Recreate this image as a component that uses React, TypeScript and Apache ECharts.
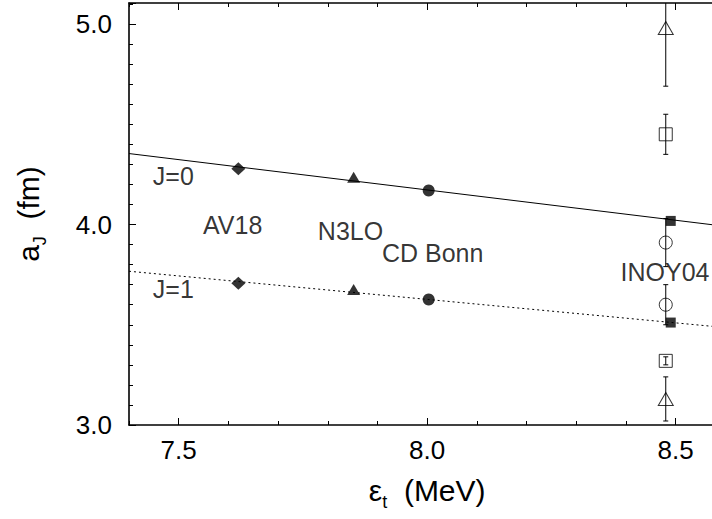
import React, { useEffect, useRef } from "react";
import * as echarts from "echarts";

// ---- data ----
const modelNames = ["AV18", "N3LO", "CD Bonn", "INOY04"];
const modelEt = [7.62, 7.852, 8.003, 8.49];
const modelA0 = [4.278, 4.236, 4.17, 4.018];
const modelA1 = [3.707, 3.676, 3.626, 3.511];

const fitEt = [7.4, 8.6];
const fitA0 = [4.354, 3.991];
const fitA1 = [3.767, 3.486];

const expEt = 8.48;
const expTriA = [4.98, 3.13];
const expTriErr = [0.29, 0.11];
const expSqA = [4.45, 3.32];
const expSqErr = [0.1, 0.02];
const expCircA = [3.91, 3.6];
const expCircErr = [0.12, 0.1];

const annTexts = ["J=0", "J=1", "AV18", "N3LO", "CD Bonn", "INOY04"];
const annX = [7.448, 7.448, 7.549, 7.78, 7.909, 8.389];
const annY = [4.242, 3.677, 4.0, 3.968, 3.86, 3.761];

const xMajorTicks = [7.5, 8.0, 8.5];
const X_MIN = 7.4;
const X_MAX = 8.6;
const Y_MIN = 3.0;
const Y_MAX = 5.105;

const FONT = "Liberation Sans";

export default function App() {
  const ref = useRef<HTMLDivElement>(null);
  useEffect(() => {
    if (!ref.current) return;
    const chart = echarts.init(ref.current, undefined, { renderer: "svg" });

    const errData: number[][] = [];
    [expTriA, expSqA, expCircA].forEach((arr, k) => {
      const errs = [expTriErr, expSqErr, expCircErr][k];
      arr.forEach((v, i) => errData.push([expEt, v - errs[i], v + errs[i]]));
    });

    const axisLine = { show: true, lineStyle: { color: "#000", width: 1.6 } };
    const minorX = (pos: string) => ({
      type: "value",
      min: X_MIN,
      max: X_MAX,
      interval: 0.1,
      position: pos,
      axisLine,
      axisTick: { show: true, inside: true, length: 4, lineStyle: { color: "#000", width: 1 } },
      axisLabel: { show: false },
      splitLine: { show: false },
    });
    const majorX = (pos: string, showLabel: boolean) => ({
      type: "value",
      min: X_MIN,
      max: X_MAX,
      position: pos,
      axisLine: { show: false },
      axisTick: {
        show: true,
        inside: true,
        length: 7,
        customValues: xMajorTicks,
        lineStyle: { color: "#000", width: 1 },
      },
      axisLabel: {
        show: showLabel,
        customValues: xMajorTicks,
        formatter: (v: number) => v.toFixed(1),
        margin: 12,
        fontSize: 26,
        fontFamily: FONT,
        color: "#000",
      },
      splitLine: { show: false },
    });

    const modelSymbols = ["diamond", "triangle", "circle", "rect"];
    const modelSizes: any[] = [[14, 13], [13, 11], 12, 10];

    const series: any[] = [
      {
        type: "line",
        data: fitEt.map((x, i) => [x, fitA0[i]]),
        showSymbol: false,
        symbol: "none",
        lineStyle: { color: "#000", width: 1, type: "solid" },
        silent: true,
      },
      {
        type: "line",
        data: fitEt.map((x, i) => [x, fitA1[i]]),
        showSymbol: false,
        symbol: "none",
        lineStyle: { color: "#000", width: 1, type: [2, 3] },
        silent: true,
      },
      {
        type: "custom",
        data: errData,
        encode: { x: 0, y: [1, 2] },
        silent: true,
        renderItem: (params: any, api: any) => {
          const x = api.value(0);
          const lo = api.value(1);
          const hi = api.value(2);
          const loC = Math.max(lo, Y_MIN);
          const hiC = Math.min(hi, Y_MAX);
          const p1 = api.coord([x, loC]);
          const p2 = api.coord([x, hiC]);
          const st = { stroke: "#000", lineWidth: 1 };
          const children: any[] = [
            { type: "line", shape: { x1: p1[0], y1: p1[1], x2: p2[0], y2: p2[1] }, style: st },
          ];
          if (hi <= Y_MAX)
            children.push({ type: "line", shape: { x1: p2[0] - 2.5, y1: p2[1], x2: p2[0] + 2.5, y2: p2[1] }, style: st });
          if (lo >= Y_MIN)
            children.push({ type: "line", shape: { x1: p1[0] - 2.5, y1: p1[1], x2: p1[0] + 2.5, y2: p1[1] }, style: st });
          return { type: "group", children };
        },
      },
    ];

    // experimental open markers
    const openDefs: [string, any, number[]][] = [
      ["triangle", [15, 13], expTriA],
      ["rect", 13, expSqA],
      ["circle", 13, expCircA],
    ];
    openDefs.forEach(([sym, size, arr]) => {
      series.push({
        type: "scatter",
        symbol: sym,
        symbolSize: size,
        data: arr.map((v) => [expEt, v]),
        itemStyle: { color: "rgba(0,0,0,0)", borderColor: "#000", borderWidth: 1 },
        silent: true,
      });
    });

    // model markers
    modelNames.forEach((name, i) => {
      series.push({
        type: "scatter",
        name,
        symbol: modelSymbols[i],
        symbolSize: modelSizes[i],
        data: [
          [modelEt[i], modelA0[i]],
          [modelEt[i], modelA1[i]],
        ],
        itemStyle: { color: "#000" },
        silent: true,
      });
    });

    // annotations
    series.push({
      type: "scatter",
      symbolSize: 0,
      silent: true,
      clip: false,
      data: annTexts.map((t, i) => ({ name: t, value: [annX[i], annY[i]] })),
      itemStyle: { color: "rgba(0,0,0,0)" },
      label: {
        show: true,
        position: [0, 0],
        align: "left",
        verticalAlign: "middle",
        formatter: (p: any) => p.name,
        fontSize: 25,
        fontFamily: FONT,
        color: "#000",
      },
    });

    chart.setOption({
      animation: false,
      backgroundColor: "#fff",
      grid: {
        left: 129,
        width: 596.4,
        top: 3,
        bottom: 94,
        containLabel: false,
        outerBoundsMode: "none",
      },
      xAxis: [
        {
          ...minorX("bottom"),
          name: "{e|ε}{s|t}{n|  (MeV)}",
          nameLocation: "middle",
          nameGap: 44,
          nameTextStyle: {
            rich: {
              e: { fontSize: 30, fontFamily: FONT, color: "#000", lineHeight: 42 },
              s: { fontSize: 18, fontFamily: FONT, color: "#000", verticalAlign: "bottom" },
              n: { fontSize: 30, fontFamily: FONT, color: "#000", lineHeight: 42 },
            },
          },
        },
        majorX("bottom", true),
        minorX("top"),
        majorX("top", false),
      ],
      yAxis: [
        {
          type: "value",
          min: Y_MIN,
          max: Y_MAX,
          interval: 1,
          position: "left",
          axisLine,
          axisTick: { show: true, inside: true, length: 7, lineStyle: { color: "#000", width: 1 } },
          minorTick: { show: true, splitNumber: 10, length: 4, lineStyle: { color: "#000", width: 1 } },
          axisLabel: {
            formatter: (v: number) => v.toFixed(1),
            showMaxLabel: false,
            margin: 17,
            fontSize: 26,
            fontFamily: FONT,
            color: "#000",
          },
          splitLine: { show: false },
          name: "{a|a}{s|J}{n|  (fm)}",
          nameLocation: "middle",
          nameRotate: 90,
          nameGap: 80,
          nameTextStyle: {
            rich: {
              a: { fontSize: 30, fontFamily: FONT, color: "#000", lineHeight: 42 },
              s: { fontSize: 18, fontFamily: FONT, color: "#000", verticalAlign: "bottom" },
              n: { fontSize: 30, fontFamily: FONT, color: "#000", lineHeight: 42 },
            },
          },
        },
      ],
      series,
    });

    return () => chart.dispose();
  }, []);

  return (
    <div
      ref={ref}
      style={{ position: "absolute", left: 0, top: 0, width: 712, height: 519 }}
    />
  );
}
